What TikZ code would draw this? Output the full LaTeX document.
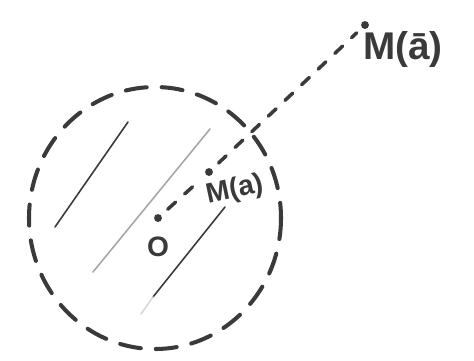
\documentclass[tikz,border=0pt]{standalone}
\usepackage{fontspec}
\setsansfont{Liberation Sans}
\usetikzlibrary{positioning}
\definecolor{figink}{HTML}{3A3A3A}
\tikzset{
  figcircle/.style={draw=figink, line width=2.3pt, line cap=round,
    dash pattern=on 12pt off 8.5pt},
  figconn/.style={draw=figink, line width=2pt, line cap=round,
    dash pattern=on 6pt off 7pt, shorten <=5pt, shorten >=4pt},
  fighatch/.style={draw=figink, line width=0.9pt, line cap=round},
  figpoint/.style={circle, fill=figink, inner sep=0pt, minimum size=4.5pt},
  figlabel/.style={font=\sffamily\bfseries\fontsize{16}{19}\selectfont, text=figink, inner sep=1pt},
}

\begin{document}
\begin{tikzpicture}[x=0.02cm, y=-0.02cm]
  \useasboundingbox (0,0) rectangle (474,360);
  % ball round O
  \draw[figcircle] (155,218) ellipse [x radius=126, y radius=131];
  % hatching
  \draw[fighatch] (128,122) -- (55,227);
  \draw[fighatch, draw=figink!45] (210,129) -- (93,272);
  \draw[fighatch] (225,207) -- (153,297);
  \draw[fighatch, draw=figink!20] (153,297) -- (141,314);
  % points
  \node[figpoint] (O) at (158,218) {};
  \node[figpoint] (M) at (209,172) {};
  \node[figpoint] (Mb) at (365,25) {};
  \node[figlabel, below=7pt of O] (Olab) {O};
  \node[figlabel, rotate=12, below right=4pt and -6pt of M] (Mlab) {M(a)};
  \node[figlabel, font=\sffamily\bfseries\fontsize{22}{25}\selectfont,
    below right=1pt and -4pt of Mb] (Mblab) {M(ā)};
  \draw[figconn] (O) -- (M);
  \draw[figconn] (M) -- (Mb);
\end{tikzpicture}
\end{document}
